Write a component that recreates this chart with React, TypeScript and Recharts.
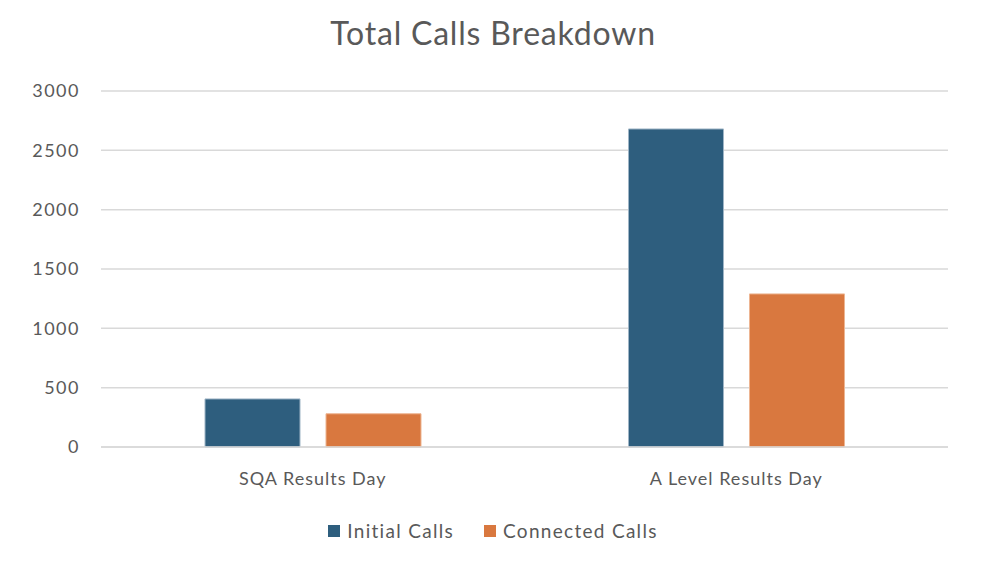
import { BarChart, Bar, XAxis, YAxis, CartesianGrid } from 'recharts';

const categories = ['SQA Results Day', 'A Level Results Day'];
const initialCalls = [405, 2680];
const connectedCalls = [280, 1290];
const yTicks = [0, 500, 1000, 1500, 2000, 2500, 3000];

const series = [
  { key: 'initial', name: 'Initial Calls', color: '#2E5E7E', edge: '#9FB5C6' },
  { key: 'connected', name: 'Connected Calls', color: '#D9783F', edge: '#EDB592' },
];

const data = categories.map((name, i) => ({
  name,
  initial: initialCalls[i],
  connected: connectedCalls[i],
}));

const FONT = 'Lato, "Open Sans", sans-serif';
const TEXT = '#595959';

export default function App() {
  return (
    <div style={{ position: 'absolute', left: 0, top: 0, width: 986, height: 572, background: '#fff', fontFamily: FONT }}>
      <div
        style={{
          position: 'absolute',
          top: 13,
          left: 0,
          width: 986,
          textAlign: 'center',
          fontSize: 32,
          color: TEXT,
          letterSpacing: 0.8,
        }}
      >
        Total Calls Breakdown
      </div>
      <BarChart
        width={986}
        height={572}
        data={data}
        margin={{ top: 91, right: 38, bottom: 95, left: 1 }}
        barGap={26}
        barSize={95}
      >
        <CartesianGrid vertical={false} stroke="#D9D9D9" strokeWidth={1.5} />
        <XAxis
          dataKey="name"
          height={30}
          axisLine={{ stroke: '#D9D9D9', strokeWidth: 1.5 }}
          tickLine={false}
          tickMargin={19}
          tick={{ fill: TEXT, fontSize: 18, fontFamily: FONT, letterSpacing: 1 }}
        />
        <YAxis
          width={100}
          domain={[0, 3000]}
          ticks={yTicks}
          axisLine={false}
          tickLine={false}
          tickMargin={15}
          tick={{ fill: TEXT, fontSize: 18, fontFamily: FONT, letterSpacing: 1.5 }}
        />
        {series.map((s) => (
          <Bar
            key={s.key}
            dataKey={s.key}
            name={s.name}
            fill={s.color}
            stroke={s.edge}
            strokeWidth={1}
            isAnimationActive={false}
          />
        ))}
      </BarChart>
      <div
        style={{
          position: 'absolute',
          top: 519,
          left: 0,
          width: 986,
          display: 'flex',
          justifyContent: 'center',
          fontSize: 19,
          color: TEXT,
          letterSpacing: 1.3,
          lineHeight: '24px',
        }}
      >
        {series.map((s, i) => (
          <div key={s.key} style={{ display: 'flex', alignItems: 'center', marginLeft: i === 0 ? 0 : 30 }}>
            <span style={{ width: 12, height: 12, background: s.color, marginRight: 7, display: 'inline-block' }} />
            <span>{s.name}</span>
          </div>
        ))}
      </div>
    </div>
  );
}
